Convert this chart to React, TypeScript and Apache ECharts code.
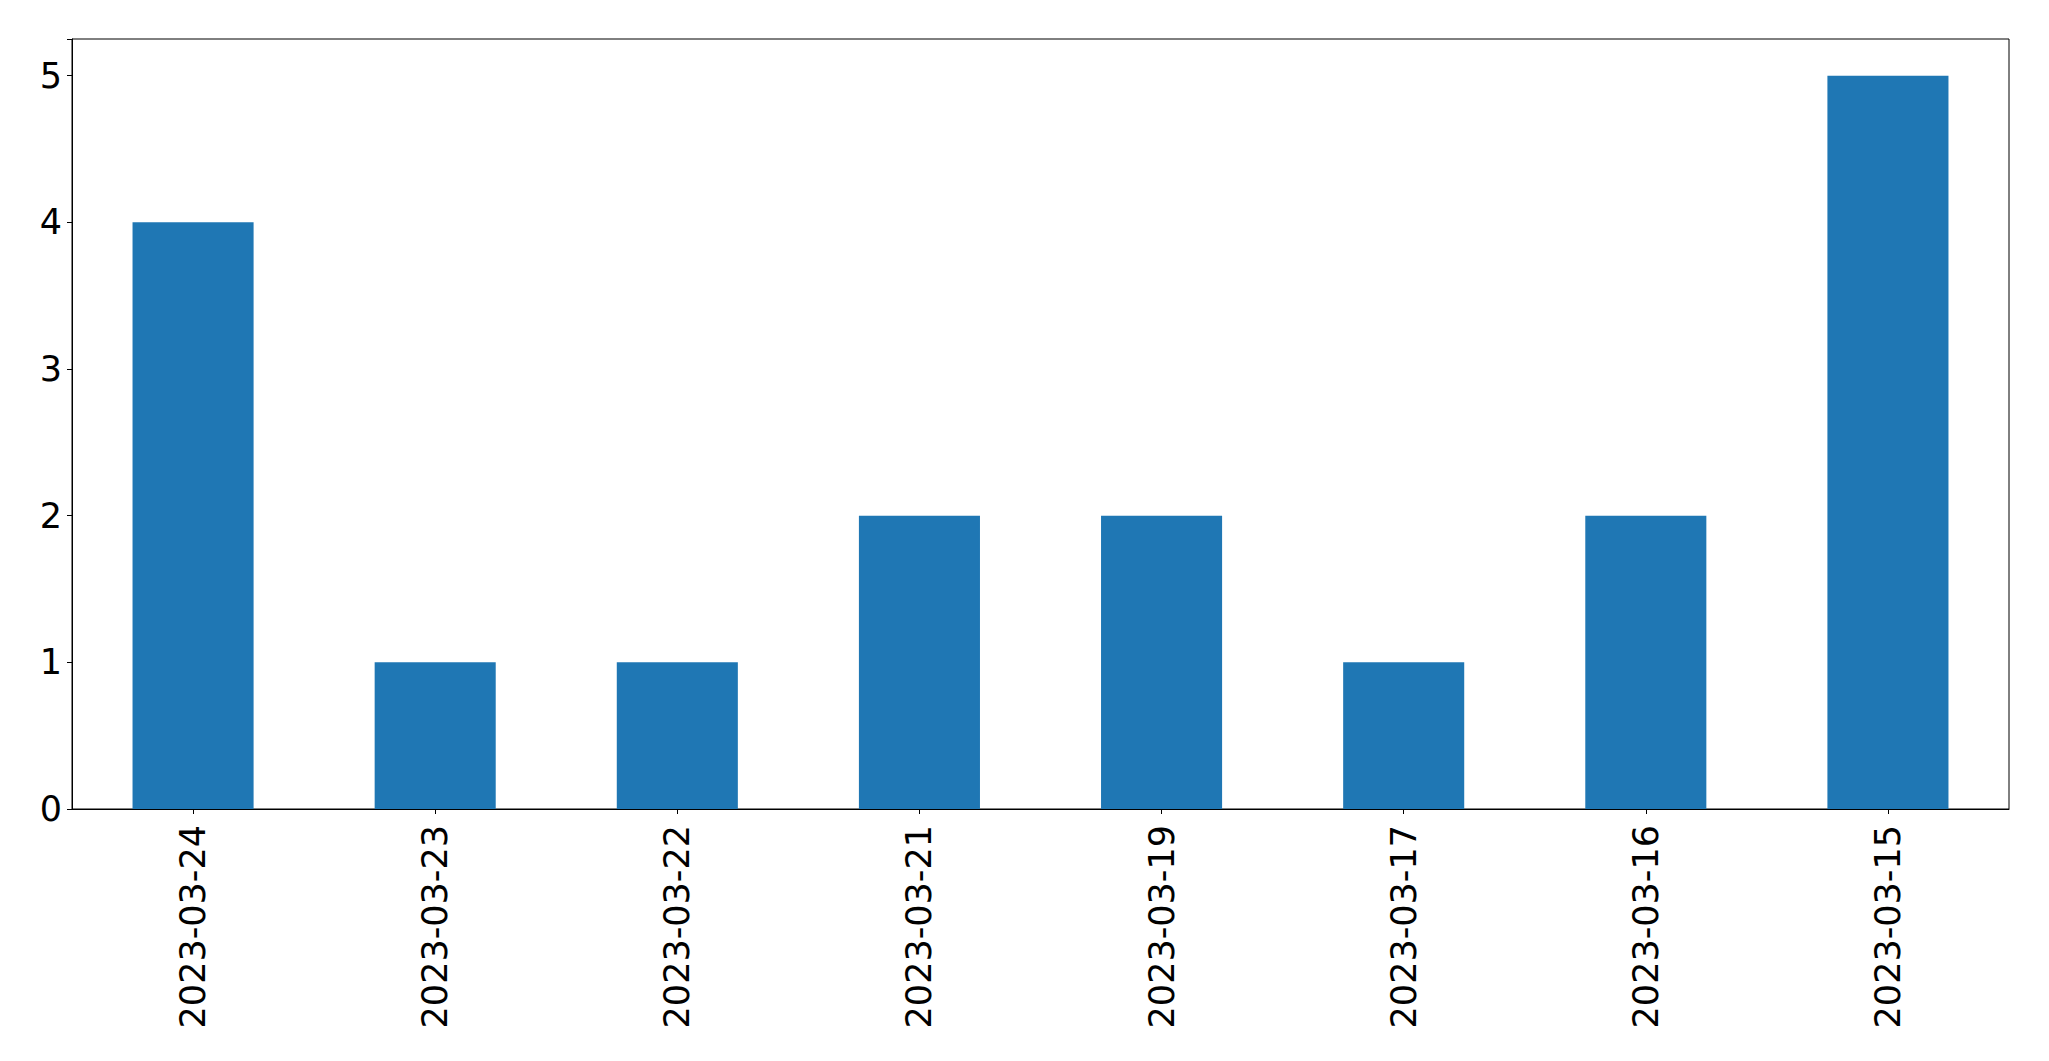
import React, { useEffect, useRef } from "react";
import * as echarts from "echarts";

const categories = [
  "2023-03-24",
  "2023-03-23",
  "2023-03-22",
  "2023-03-21",
  "2023-03-19",
  "2023-03-17",
  "2023-03-16",
  "2023-03-15",
];
const counts = [4, 1, 1, 2, 2, 1, 2, 5];

const FONT = "DejaVu Sans";

export default function App() {
  const ref = useRef<HTMLDivElement>(null);
  useEffect(() => {
    if (!ref.current) return;
    const chart = echarts.init(ref.current, null, { renderer: "svg" });
    chart.setOption({
      animation: false,
      backgroundColor: "#ffffff",
      grid: {
        left: 72,
        top: 39,
        width: 1937,
        height: 770,
        show: true,
        borderColor: "#000",
        borderWidth: 1,
        backgroundColor: "transparent",
      },
      xAxis: {
        type: "category",
        data: categories,
        axisLine: { show: true, lineStyle: { color: "#000", width: 1 } },
        axisTick: { show: true, alignWithLabel: true, length: 5, lineStyle: { color: "#000" } },
        axisLabel: {
          rotate: 90,
          margin: 16,
          color: "#000",
          fontSize: 35,
          fontFamily: FONT,
          interval: 0,
        },
        splitLine: { show: false },
      },
      yAxis: {
        type: "value",
        min: 0,
        max: 5.25,
        interval: 1,
        axisLine: { show: true, lineStyle: { color: "#000", width: 1 } },
        axisTick: { show: true, length: 5, lineStyle: { color: "#000" } },
        axisLabel: {
          margin: 10,
          color: "#000",
          fontSize: 35,
          fontFamily: FONT,
          formatter: (v: number) => (Number.isInteger(v) ? String(v) : ""),
        },
        splitLine: { show: false },
      },
      series: [
        {
          type: "bar",
          data: counts,
          barWidth: "50%",
          itemStyle: { color: "#1f77b4" },
        },
      ],
    });
    return () => chart.dispose();
  }, []);
  return (
    <div
      ref={ref}
      style={{ position: "fixed", left: 0, top: 0, width: 2049, height: 1061, background: "#fff" }}
    />
  );
}
